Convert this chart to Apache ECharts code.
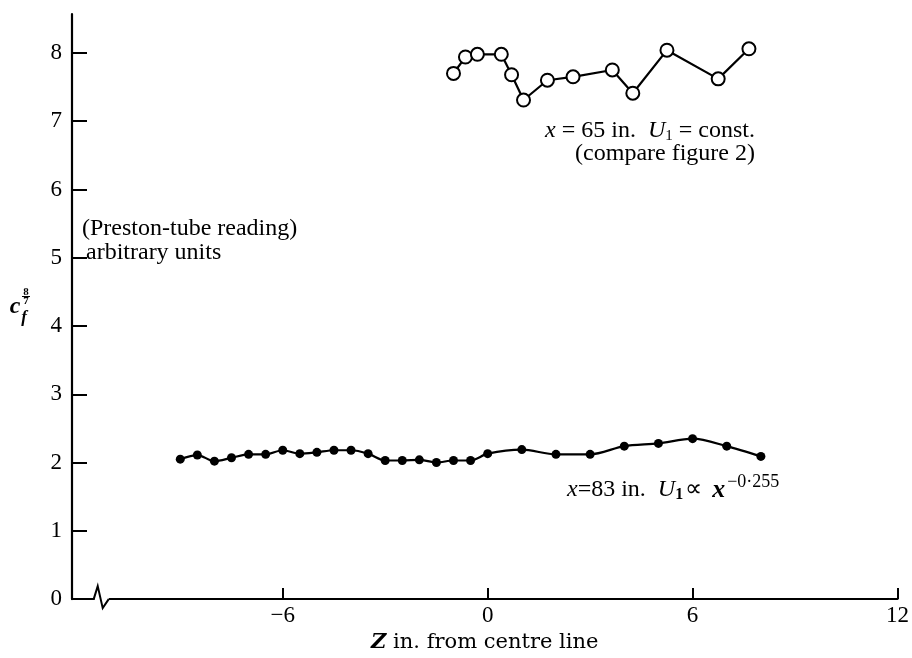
<!DOCTYPE html>
<html>
<head>
<meta charset="utf-8">
<script src="https://cdn.jsdelivr.net/npm/echarts@6/dist/echarts.min.js"></script>
<style>
html,body{margin:0;padding:0;background:#fff;}
#chart{width:912px;height:658px;}
</style>
</head>
<body>
<div id="chart"></div>
<script>
// lower curve, x = 83 in. (filled dots)
var zLower = [-9,-8.5,-8,-7.5,-7,-6.5,-6,-5.5,-5,-4.5,-4,-3.5,-3,-2.5,-2,-1.5,-1,-0.5,0,1,2,3,4,5,6,7,8];
var cfLower = [2.05,2.11,2.02,2.07,2.12,2.12,2.18,2.13,2.15,2.18,2.18,2.13,2.03,2.03,2.04,2.0,2.03,2.03,2.13,2.19,2.12,2.12,2.24,2.28,2.35,2.24,2.09];
// upper curve, x = 65 in. (open circles)
var zUpper = [-1.0,-0.65,-0.3,0.4,0.7,1.05,1.75,2.5,3.65,4.25,5.25,6.75,7.65];
var cfUpper = [7.70,7.94,7.98,7.98,7.68,7.31,7.60,7.65,7.75,7.41,8.04,7.62,8.06];
var xTicks = [-6,0,6,12];
var yTicks = [0,1,2,3,4,5,6,7,8];

var SERIF = '"Liberation Serif", "Times New Roman", serif';
var BREAK_AT = -11.3;

function pairs(xs, ys){
  var out = [];
  for (var i = 0; i < xs.length; i++) out.push([xs[i], ys[i]]);
  return out;
}

var myChart = echarts.init(document.getElementById('chart'), null, {renderer:'canvas'});

var option = {
  backgroundColor: '#fff',
  animation: false,
  grid: {left:72, right:12, top:14, bottom:58, containLabel:false},
  xAxis: {
    type: 'value',
    min: -12.17, max: 12,
    axisLine: {onZero:false, lineStyle:{color:'#000', width:2.2}},
    axisTick: {inside:true, length:11, lineStyle:{color:'#000', width:2}, customValues: xTicks},
    axisLabel: {
      customValues: xTicks, color:'#000', fontFamily:SERIF, fontSize:23, margin:5,
      formatter: function(v){ return String(v).replace('-', '\u2212'); }
    },
    splitLine: {show:false},
    name: '{z|Z} in. from centre line',
    nameLocation: 'middle',
    nameGap: 32,
    nameTextStyle: {
      color:'#000', fontFamily:'"DejaVu Serif", serif', fontSize:21,
      rich: {z:{fontFamily:'"DejaVu Serif", serif', fontSize:21, fontWeight:'bold', fontStyle:'italic', color:'#000'}}
    }
  },
  yAxis: {
    type: 'value',
    min: 0, max: 8.57,
    axisLine: {onZero:false, lineStyle:{color:'#000', width:2.2}},
    axisTick: {inside:true, length:15, lineStyle:{color:'#000', width:2}, customValues: yTicks},
    axisLabel: {customValues: yTicks, color:'#000', fontFamily:SERIF, fontSize:23, margin:10},
    splitLine: {show:false}
  },
  graphic: [
    {type:'text', x:15, y:307, style:{text:'c', font:'bold italic 24px ' + SERIF, fill:'#000', align:'center', verticalAlign:'middle'}},
    {type:'text', x:26, y:292, style:{text:'8', font:'bold 11px ' + SERIF, fill:'#000', align:'center', verticalAlign:'middle'}},
    {type:'text', x:26, y:301, style:{text:'7', font:'bold 11px ' + SERIF, fill:'#000', align:'center', verticalAlign:'middle'}},
    {type:'line', shape:{x1:22, y1:296.5, x2:30, y2:296.5}, style:{stroke:'#000', lineWidth:1}},
    {type:'text', x:24, y:318, style:{text:'f', font:'bold italic 17px ' + SERIF, fill:'#000', align:'center', verticalAlign:'middle'}},
    {type:'text', x:82, y:229, style:{text:'(Preston-tube reading)', font:'24px ' + SERIF, fill:'#000', verticalAlign:'middle'}},
    {type:'text', x:86, y:253, style:{text:'arbitrary units', font:'24px ' + SERIF, fill:'#000', verticalAlign:'middle'}},
    {type:'text', x:755, y:131, style:{
      text:'{i|x} = 65 in.  {i|U}{sub|1} = const.', font:'24px ' + SERIF, fill:'#000', align:'right', verticalAlign:'middle',
      rich:{i:{font:'italic 24px ' + SERIF, fill:'#000'}, sub:{font:'15px ' + SERIF, fill:'#000', padding:[10,0,0,0]}}
    }},
    {type:'text', x:755, y:154, style:{text:'(compare figure 2)', font:'24px ' + SERIF, fill:'#000', align:'right', verticalAlign:'middle'}},
    {type:'text', x:567, y:490, style:{
      text:'{i|x}=83 in.  {i|U}{sub|1}\u221D {b|x}{sup|\u22120\u00B7255}', font:'24px ' + SERIF, fill:'#000', verticalAlign:'middle',
      rich:{
        i:{font:'italic 24px ' + SERIF, fill:'#000'},
        b:{font:'bold italic 26px ' + SERIF, fill:'#000', padding:[0,2,0,4]},
        sub:{font:'bold 16px ' + SERIF, fill:'#000', padding:[10,2,0,0]},
        sup:{font:'18px ' + SERIF, fill:'#000', padding:[0,0,16,0]}
      }
    }}
  ],
  series: [
    {
      name: 'x = 83 in.',
      type: 'line',
      data: pairs(zLower, cfLower),
      smooth: 0.3,
      symbol: 'circle',
      symbolSize: 9,
      lineStyle: {color:'#000', width:2.2},
      itemStyle: {color:'#000'},
      z: 3
    },
    {
      name: 'x = 65 in.',
      type: 'line',
      data: pairs(zUpper, cfUpper),
      symbol: 'circle',
      symbolSize: 13,
      lineStyle: {color:'#000', width:2.2},
      itemStyle: {color:'#fff', borderColor:'#000', borderWidth:2},
      z: 3
    },
    {
      // axis break mark on the Z axis
      type: 'custom',
      clip: false,
      silent: true,
      z: 5,
      data: [[BREAK_AT, 0]],
      renderItem: function(params, api){
        var p = api.coord([api.value(0), api.value(1)]);
        return {
          type: 'group',
          children: [
            {type:'rect', shape:{x:p[0]-7, y:p[1]-2, width:14, height:4}, style:{fill:'#fff'}},
            {type:'polyline', shape:{points:[[p[0]-8,p[1]],[p[0]-4,p[1]-13],[p[0]+1,p[1]+9],[p[0]+7,p[1]]]},
             style:{stroke:'#000', lineWidth:2, fill:null}}
          ]
        };
      }
    }
  ]
};

myChart.setOption(option);
</script>
</body>
</html>
